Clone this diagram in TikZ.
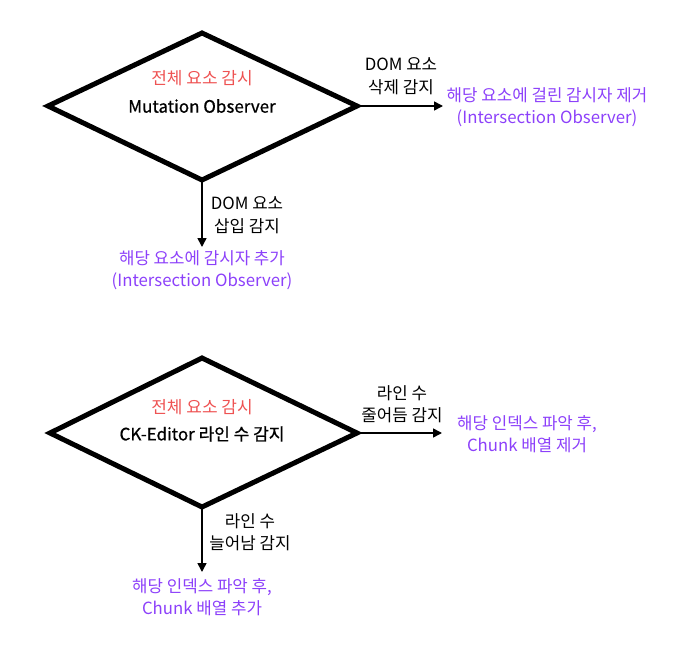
\documentclass[tikz,border=0pt]{standalone}
\usepackage{fontspec}
\setmainfont{Noto Sans CJK KR}
\newfontfamily\medfont[FakeBold=0.7]{Noto Sans CJK KR}
\usetikzlibrary{arrows.meta}
\definecolor{redt}{RGB}{238,82,82}
\definecolor{purt}{RGB}{140,64,250}
\begin{document}
\begin{tikzpicture}[x=1pt,y=-1pt,
  dia/.style={line width=5pt, line join=miter},
  arr/.style={line width=1.6pt,-{Triangle[length=9pt,width=9pt]}},
  lbl/.style={font=\fontsize{16.8}{22.5}\selectfont, align=center, inner sep=0pt},
  res/.style={lbl, text=purt},
  ttl/.style={font=\fontsize{17}{20}\selectfont, text=redt, inner sep=0pt},
  mid/.style={font=\fontsize{17}{20}\selectfont\medfont, inner sep=0pt}]
\useasboundingbox (0,0) rectangle (683,653);
% diamond 1
\coordinate (d1t) at (202,33);
\coordinate (d1l) at (48,106);
\coordinate (d1r) at (357,106);
\coordinate (d1b) at (202,180);
\draw[dia] (d1t) -- (d1r) -- (d1b) -- (d1l) -- cycle;
\node[ttl] (d1a) at (202,78) {전체 요소 감시};
\node[mid] (d1m) at (202,106) {Mutation Observer};
% right of diamond 1
\coordinate (e1) at (443,106);
\draw[arr] (d1r) -- (e1);
\node[lbl] (l1) at (401,76) {DOM 요소\\삭제 감지};
\node[res] (r1) at (547,107) {해당 요소에 걸린 감시자 제거\\(Intersection Observer)};
% below diamond 1
\coordinate (e2) at (202,247);
\draw[arr] (d1b) -- (e2);
\node[lbl] (l2) at (247,215) {DOM 요소\\삽입 감지};
\node[res] (r2) at (202,270) {해당 요소에 감시자 추가\\(Intersection Observer)};
% diamond 2
\coordinate (d2t) at (202,358);
\coordinate (d2l) at (50,433);
\coordinate (d2r) at (357,433);
\coordinate (d2b) at (202,507);
\draw[dia] (d2t) -- (d2r) -- (d2b) -- (d2l) -- cycle;
\node[ttl] (d2a) at (202,407) {전체 요소 감시};
\node[mid] (d2m) at (202,434) {CK-Editor 라인 수 감지};
% right of diamond 2
\coordinate (e3) at (442,433);
\draw[arr] (d2r) -- (e3);
\node[lbl] (l3) at (402,404) {라인 수\\줄어듬 감지};
\node[res] (r3) at (527,434) {해당 인덱스 파악 후,\\Chunk 배열 제거};
% below diamond 2
\coordinate (e4) at (202,572);
\draw[arr] (d2b) -- (e4);
\node[lbl] (l4) at (250,532) {라인 수\\늘어남 감지};
\node[res] (r4) at (202,597) {해당 인덱스 파악 후,\\Chunk 배열 추가};
\end{tikzpicture}
\end{document}
